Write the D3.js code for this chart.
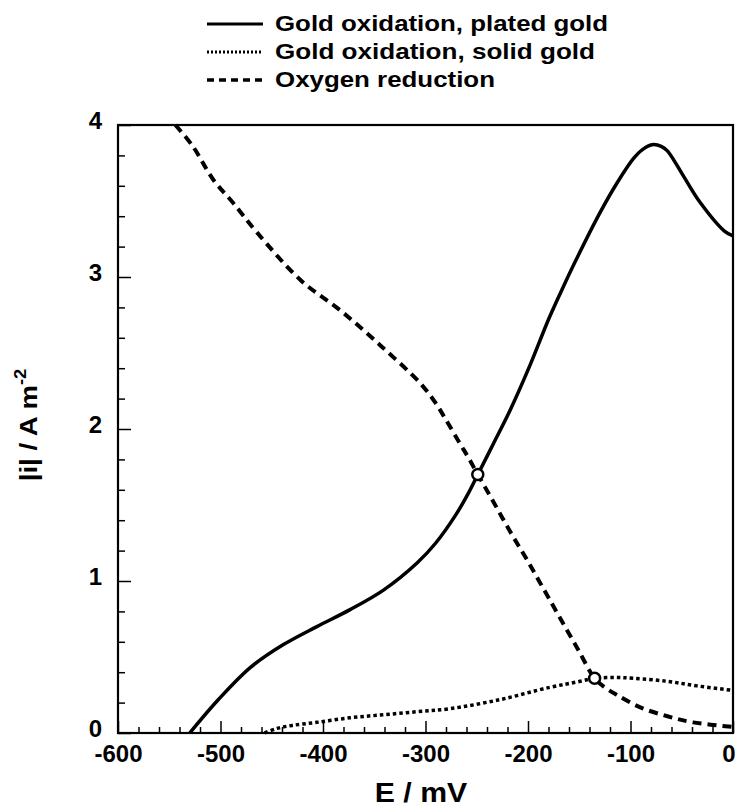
<!DOCTYPE html>
<html>
<head>
<meta charset="utf-8">
<script src="https://cdn.jsdelivr.net/npm/d3@7"></script>
<style>
  html, body { margin: 0; padding: 0; background: #fff; }
  svg { display: block; }
  text { font-family: "Liberation Sans", Arial, Helvetica, sans-serif; font-weight: bold; fill: #000; }
</style>
</head>
<body>
<svg id="chart" width="735" height="807"></svg>
<script>
// Gold oxidation current, plated gold (E in mV, |i| in A m^-2)
const platedE = [-530, -502, -471, -439, -406, -374, -341, -308, -290, -270, -258, -249, -234, -217, -198, -180, -168, -154, -130, -113, -97, -88, -79, -70, -64, -48, -32, -8, 0];
const platedI = [0, 0.22, 0.43, 0.58, 0.70, 0.81, 0.94, 1.12, 1.25, 1.44, 1.58, 1.70, 1.90, 2.13, 2.42, 2.72, 2.90, 3.10, 3.42, 3.62, 3.78, 3.84, 3.87, 3.86, 3.83, 3.66, 3.49, 3.30, 3.27];

// Gold oxidation current, solid gold
const solidE = [-457, -445, -430, -406, -374, -341, -308, -276, -227, -179, -149, -135, -115, -97, -64, -35, 0];
const solidI = [0.0, 0.03, 0.05, 0.07, 0.10, 0.12, 0.14, 0.16, 0.22, 0.30, 0.34, 0.36, 0.365, 0.36, 0.34, 0.31, 0.28];

// Oxygen reduction current
const oxygenE = [-544, -527, -507, -488, -464, -422, -383, -344, -305, -290, -280, -266, -258, -249, -237, -217, -201, -185, -169, -152, -135, -125, -113, -91, -64, -39, 0];
const oxygenI = [4.0, 3.86, 3.64, 3.49, 3.29, 2.98, 2.78, 2.55, 2.30, 2.17, 2.06, 1.90, 1.81, 1.70, 1.56, 1.32, 1.14, 0.95, 0.76, 0.56, 0.36, 0.30, 0.25, 0.17, 0.11, 0.07, 0.04];

// Mixed-potential crossing points
const crossE = [-249, -135];
const crossI = [1.70, 0.36];

// Axis ticks
const xMajorTicks = [-600, -500, -400, -300, -200, -100, 0];
const yMajorTicks = [0, 1, 2, 3, 4];

// Legend
const legendLabels = ["Gold oxidation, plated gold", "Gold oxidation, solid gold", "Oxygen reduction"];

const svg = d3.select("#chart");
const plotLeft = 118, plotRight = 733, plotTop = 125, plotBottom = 733;

const x = d3.scaleLinear().domain([-600, 0]).range([plotLeft, plotRight]);
const y = d3.scaleLinear().domain([0, 4]).range([plotBottom, plotTop]);

const xMinor = d3.range(-600, 1, 20).filter(v => v % 100 !== 0);
const yMinor = d3.range(0, 4.001, 0.2).map(v => +v.toFixed(1)).filter(v => Math.abs(v - Math.round(v)) > 1e-6);
const plain = d => String(d);

// minor ticks
svg.append("g").attr("transform", `translate(0,${plotBottom})`)
  .call(d3.axisBottom(x).tickValues(xMinor).tickSizeInner(-6).tickSizeOuter(0).tickFormat(""))
  .call(g => g.select(".domain").remove())
  .call(g => g.selectAll("line").attr("stroke-width", 1.5));
svg.append("g").attr("transform", `translate(${plotLeft},0)`)
  .call(d3.axisLeft(y).tickValues(yMinor).tickSizeInner(-7).tickSizeOuter(0).tickFormat(""))
  .call(g => g.select(".domain").remove())
  .call(g => g.selectAll("line").attr("stroke-width", 1.5));

// major ticks and labels
svg.append("g").attr("transform", `translate(0,${plotBottom})`)
  .call(d3.axisBottom(x).tickValues(xMajorTicks).tickSizeInner(-12).tickSizeOuter(0).tickPadding(12).tickFormat(plain))
  .call(g => g.select(".domain").remove())
  .call(g => g.selectAll("line").attr("stroke-width", 1.5))
  .call(g => g.selectAll("text").attr("font-size", 24).attr("font-family", null).attr("fill", null))
  .call(g => g.selectAll(".tick").filter(d => d === 0).select("text").attr("text-anchor", "end").attr("x", 2));
svg.append("g").attr("transform", `translate(${plotLeft},0)`)
  .call(d3.axisLeft(y).tickValues(yMajorTicks).tickSizeInner(-13).tickSizeOuter(0).tickPadding(16).tickFormat(plain))
  .call(g => g.select(".domain").remove())
  .call(g => g.selectAll("line").attr("stroke-width", 1.5))
  .call(g => g.selectAll("text").attr("font-size", 24).attr("dy", "0.15em").attr("font-family", null).attr("fill", null));

// frame
svg.append("rect")
  .attr("x", plotLeft).attr("y", plotTop)
  .attr("width", plotRight - plotLeft).attr("height", plotBottom - plotTop)
  .attr("fill", "none").attr("stroke", "#000").attr("stroke-width", 2.2);

// curves
const line = d3.line().x(d => x(d[0])).y(d => y(d[1])).curve(d3.curveCatmullRom.alpha(0.5));
const zip = (a, b) => a.map((v, k) => [v, b[k]]);

svg.append("path").datum(zip(oxygenE, oxygenI))
  .attr("d", line).attr("fill", "none").attr("stroke", "#000")
  .attr("stroke-width", 4).attr("stroke-dasharray", "9,6");
svg.append("path").datum(zip(solidE, solidI))
  .attr("d", line).attr("fill", "none").attr("stroke", "#000")
  .attr("stroke-width", 3.5).attr("stroke-dasharray", "3.5,3");
svg.append("path").datum(zip(platedE, platedI))
  .attr("d", line).attr("fill", "none").attr("stroke", "#000")
  .attr("stroke-width", 3.5);

// crossing markers
svg.selectAll("circle.cross").data(zip(crossE, crossI)).join("circle")
  .attr("class", "cross")
  .attr("cx", d => x(d[0])).attr("cy", d => y(d[1]))
  .attr("r", 5.5).attr("fill", "#fff").attr("stroke", "#000").attr("stroke-width", 2.5);

// axis titles
svg.append("text")
  .attr("transform", "translate(421,802) scale(1.12,1)")
  .attr("text-anchor", "middle").attr("font-size", 27)
  .text("E / mV");

const yt = svg.append("text")
  .attr("transform", "translate(37,425) rotate(-90) scale(1.15,1)")
  .attr("text-anchor", "middle").attr("font-size", 24);
yt.append("tspan").text("|i| / A m");
yt.append("tspan").attr("font-size", 16).attr("dy", "-0.7em").text("-2");

// legend
const legendStyles = [
  { dash: null, width: 3 },
  { dash: "2,2", width: 3 },
  { dash: "7,5", width: 3.5 }
];
const legendRowY = [24, 52, 80];
const legendWidths = [333, 320, 220];
const lg = svg.append("g");
legendLabels.forEach((label, k) => {
  lg.append("line")
    .attr("x1", 207).attr("x2", 263)
    .attr("y1", legendRowY[k]).attr("y2", legendRowY[k])
    .attr("stroke", "#000").attr("stroke-width", legendStyles[k].width)
    .attr("stroke-dasharray", legendStyles[k].dash);
  lg.append("text")
    .attr("x", 275).attr("y", legendRowY[k] + 7)
    .attr("font-size", 22)
    .attr("textLength", legendWidths[k]).attr("lengthAdjust", "spacingAndGlyphs")
    .text(label);
});
</script>
</body>
</html>
